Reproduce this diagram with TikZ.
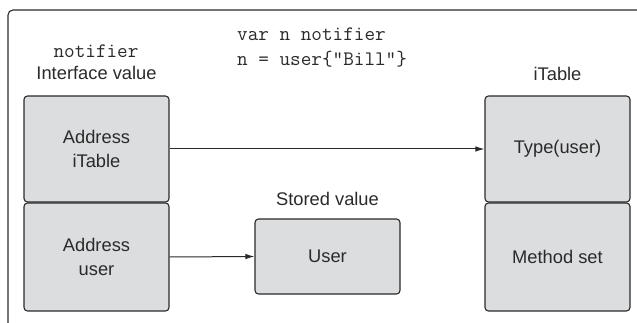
\documentclass[tikz,border=0pt]{standalone}
\usepackage{fontspec}
\setmainfont{Liberation Sans}
\setmonofont{Latin Modern Mono}
\usetikzlibrary{arrows.meta}
\definecolor{boxfill}{HTML}{DCDDDF}
\definecolor{ink}{HTML}{2A2A2A}
\begin{document}
\begin{tikzpicture}[x=1pt,y=-1pt,
  cell/.style={draw=ink, line width=1.1pt, fill=boxfill, rounded corners=3.5pt, text=ink, align=center, font=\fontsize{18.3}{24}\selectfont},
  lbl/.style={text=ink, font=\fontsize{18.3}{24}\selectfont, inner sep=0pt},
  code/.style={text=ink, font=\ttfamily\fontsize{20.6}{25}\selectfont, inner sep=0pt},
  conn/.style={draw=ink, line width=1pt, -{Latex[length=9pt,width=5.5pt]}}]
\useasboundingbox (0,0) rectangle (637,323);
\draw[ink, line width=1.1pt, rounded corners=5pt] (8,330) |- (645,10);
\node[cell, minimum width=145pt, minimum height=106pt] (ait) at (96.5,149) {Address\\iTable};
\node[cell, minimum width=145pt, minimum height=108pt] (au) at (96.5,257) {Address\\user};
\node[cell, minimum width=145pt, minimum height=106pt] (tu) at (557.5,149) {Type(user)};
\node[cell, minimum width=145pt, minimum height=108pt] (ms) at (557.5,257) {Method set};
\node[cell, minimum width=145pt, minimum height=75pt] (us) at (327.5,256.5) {User};
\node[code] (nt) at (96,51) {notifier};
\node[lbl] (iv) at (96.5,73) {Interface value};
\node[lbl] (itl) at (557.5,74) {iTable};
\node[lbl] (sv) at (327.5,199) {Stored value};
\node[code, anchor=west] (c1) at (237,34) {var n notifier};
\node[code, anchor=west] (c2) at (237,59) {n = user\{"Bill"\}};
\draw[conn] (ait.east) -- (tu.west);
\draw[conn] (au.east) -- (us.west);
\end{tikzpicture}
\end{document}
